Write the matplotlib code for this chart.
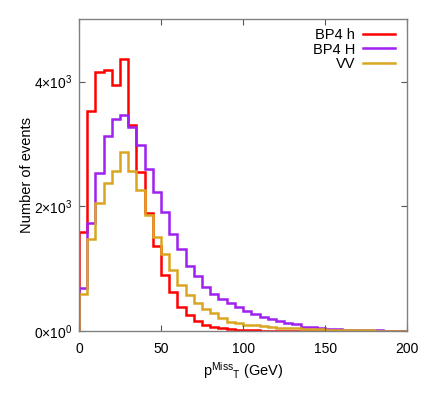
import numpy as np
import matplotlib
matplotlib.use('Agg')
import matplotlib.pyplot as plt

plt.rcParams['font.family'] = ['Liberation Sans', 'DejaVu Sans']
plt.rcParams['mathtext.fontset'] = 'custom'
plt.rcParams['mathtext.rm'] = 'Liberation Sans'
plt.rcParams['mathtext.it'] = 'Liberation Sans:italic'

# bin edges in GeV, 5 GeV wide
edges = np.arange(0, 205, 5)

bp4_h = [1595, 3534, 4155, 4177, 3940, 4360, 3309, 2555, 1885, 1360,
         900, 630, 380, 257, 166, 96, 70, 43, 32, 22,
         16, 12, 9, 7, 5, 4, 4, 3, 3, 2,
         2, 2, 1, 1, 1, 1, 1, 1, 1, 1]
bp4_H = [696, 1740, 2533, 3122, 3400, 3459, 3270, 2985, 2602, 2228,
         1907, 1558, 1312, 1049, 884, 701, 594, 514, 444, 380,
         327, 273, 230, 190, 160, 123, 107, 72, 60, 50,
         35, 30, 25, 22, 18, 15, 12, 10, 8, 7]
vv = [589, 1473, 2061, 2372, 2560, 2870, 2560, 2254, 1863, 1515,
      1232, 980, 739, 578, 455, 348, 284, 204, 150, 123,
      100, 92, 75, 65, 55, 50, 45, 40, 35, 30,
      25, 22, 18, 15, 13, 12, 10, 8, 7, 6]

labels = ['BP4 h', 'BP4 H', 'VV']
colors = ['#ff0000', '#a020f0', '#daa520']

fig = plt.figure(figsize=(4.25, 3.98), dpi=100)
ax = fig.add_axes([0.186, 0.168, 0.772, 0.784])

for vals, lab, col in zip([bp4_h, bp4_H, vv], labels, colors):
    ax.stairs(vals, edges, baseline=0, color=col, lw=1.8, label=lab)

ax.set_xlim(0, 200)
ax.set_ylim(0, 5000)
ax.set_xticks([0, 50, 100, 150, 200])
ax.set_yticks([0, 2000, 4000])
ax.set_yticklabels([r'$0{\times}10^{0}$', r'$2{\times}10^{3}$', r'$4{\times}10^{3}$'])
ax.tick_params(direction='in', top=True, right=True, length=4, width=0.8,
               color='#555555', labelsize=10)
ax.tick_params(axis='y', pad=5)
ax.tick_params(axis='x', pad=8)
for s in ax.spines.values():
    s.set_color('#808080')
    s.set_linewidth(1.0)

ax.set_ylabel('Number of events', fontsize=10.5)
ax.yaxis.set_label_coords(-0.137, 0.5)
ax.set_xlabel(r'p$^{\mathrm{Miss}}$$_{\mathrm{T}}$ (GeV)', fontsize=10.5, labelpad=3)

leg = ax.legend(loc='upper right', bbox_to_anchor=(0.99, 1.0), frameon=False,
                markerfirst=False, fontsize=10.5,
                handlelength=2.2, handletextpad=0.55, labelspacing=0.05,
                borderaxespad=0.2, borderpad=0.4)
for t in leg.get_texts():
    t.set_ha('right')

fig.savefig('out.png', dpi=100)
